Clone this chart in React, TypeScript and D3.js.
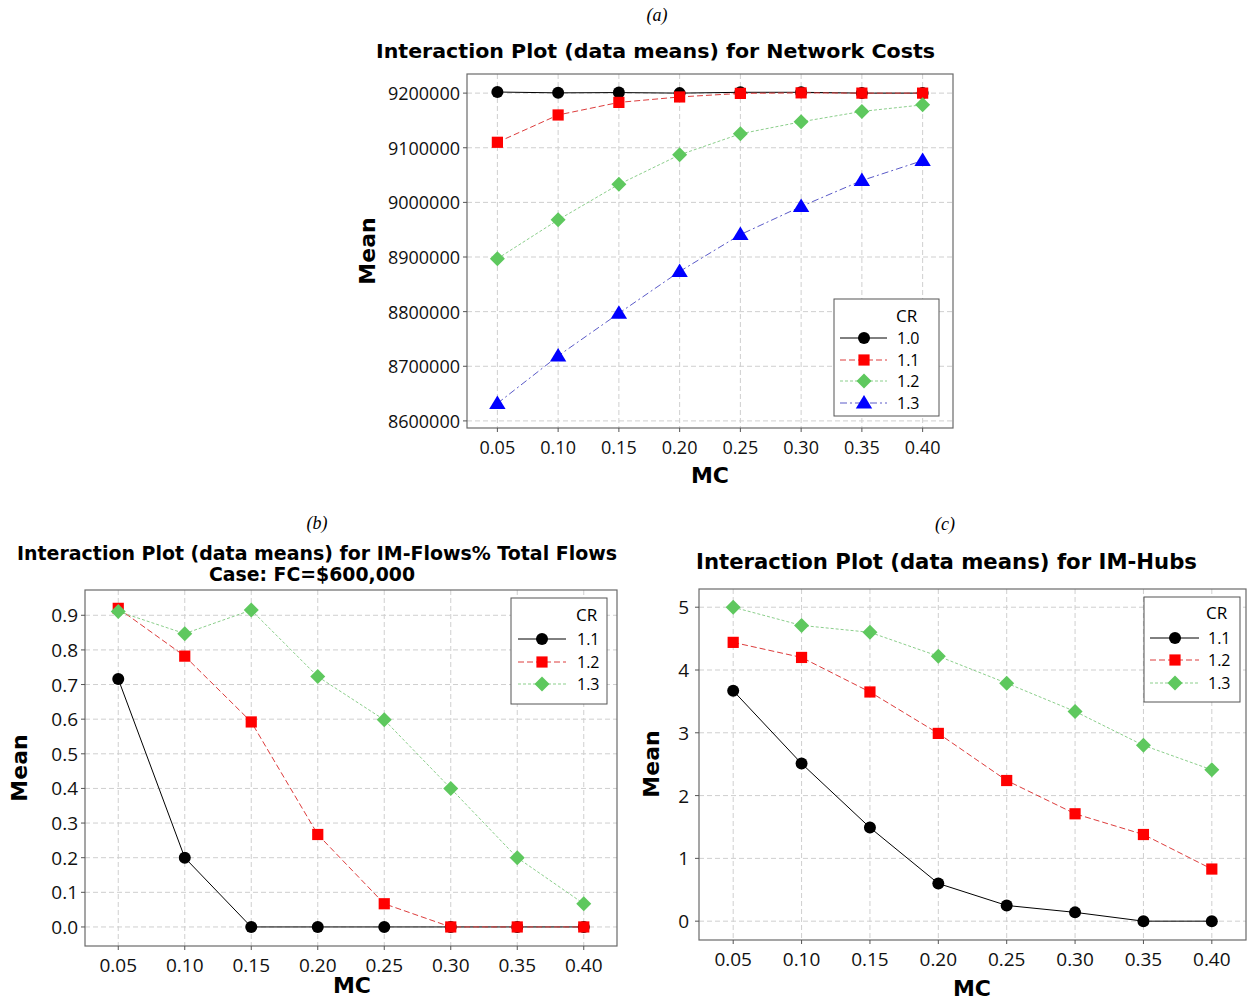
import React from 'react';
import * as d3 from 'd3';

// ---------- data ----------
const mcLabels = ["0.05", "0.10", "0.15", "0.20", "0.25", "0.30", "0.35", "0.40"];

const costCR = ["1.0", "1.1", "1.2", "1.3"];
const cost10 = [9202000, 9200500, 9201000, 9200000, 9201500, 9201500, 9200000, 9200000];
const cost11 = [9110000, 9160000, 9183000, 9193000, 9199500, 9200500, 9200000, 9200000];
const cost12 = [8897000, 8968000, 9033000, 9087000, 9125500, 9147500, 9166500, 9178500];
const cost13 = [8632000, 8719000, 8797000, 8873500, 8941000, 8992500, 9040000, 9076500];
const costTicks = [8600000, 8700000, 8800000, 8900000, 9000000, 9100000, 9200000];

const flowCR = ["1.1", "1.2", "1.3"];
const flow11 = [0.716, 0.2, 0, 0, 0, 0, 0, 0];
const flow12 = [0.92, 0.782, 0.592, 0.267, 0.067, 0, 0, 0];
const flow13 = [0.911, 0.847, 0.915, 0.723, 0.598, 0.4, 0.2, 0.067];
const flowTicks = [0, 0.1, 0.2, 0.3, 0.4, 0.5, 0.6, 0.7, 0.8, 0.9];

const hubCR = ["1.1", "1.2", "1.3"];
const hub11 = [3.67, 2.51, 1.49, 0.6, 0.25, 0.14, 0, 0];
const hub12 = [4.44, 4.2, 3.65, 2.99, 2.24, 1.71, 1.38, 0.83];
const hub13 = [5.0, 4.71, 4.6, 4.22, 3.79, 3.34, 2.8, 2.41];
const hubTicks = [0, 1, 2, 3, 4, 5];

// ---------- styles ----------
const seriesStyles = [
  { marker: 'circle', fill: '#000000', line: '#000000', dash: undefined },
  { marker: 'square', fill: '#ff0000', line: '#dd3c3c', dash: '6,3' },
  { marker: 'diamond', fill: '#5ec85e', line: '#8ccf8c', dash: '3,2' },
  { marker: 'triangle', fill: '#0000ff', line: '#5a5ac8', dash: '7,3,2,3' },
];

const FONT = "'DejaVu Sans', Verdana, sans-serif";
const TICKFONT = "'Open Sans', 'DejaVu Sans', sans-serif";

function markerPath(kind: string, x: number, y: number): string {
  if (kind === 'circle') {
    const r = 6;
    return `M${x - r},${y}a${r},${r} 0 1,0 ${2 * r},0a${r},${r} 0 1,0 ${-2 * r},0Z`;
  }
  if (kind === 'square') {
    const h = 5.6;
    return `M${x - h},${y - h}H${x + h}V${y + h}H${x - h}Z`;
  }
  if (kind === 'diamond') {
    const h = 7.5;
    return `M${x},${y - h}L${x + h},${y}L${x},${y + h}L${x - h},${y}Z`;
  }
  const w = 8.2, up = 8, down = 5.5;
  return `M${x},${y - up}L${x + w},${y + down}L${x - w},${y + down}Z`;
}

type PanelProps = {
  box: { l: number; r: number; t: number; b: number };
  yDomain: [number, number];
  yTicks: number[];
  yFmt: (v: number) => string;
  series: number[][];
  crLabels: string[];
  tickFont: number;
  xTickY: number;
  yTickX: number;
  titles: { text: string; x: number; y: number; len: number; size: number }[];
  meanPos: [number, number];
  mcPos: [number, number];
  legend: { l: number; r: number; t: number; b: number; crX: number; crY: number; rows: number[]; x0: number; x1: number; mx: number; tx: number; font: number };
  section: { text: string; x: number; y: number };
};

function Panel(p: PanelProps) {
  const x = d3.scalePoint<string>().domain(mcLabels).range([p.box.l, p.box.r]).padding(0.5);
  const y = d3.scaleLinear().domain(p.yDomain).range([p.box.b, p.box.t]);
  const line = d3.line<number>().x((_, i) => x(mcLabels[i]) as number).y((v) => y(v));
  const { box, legend } = p;
  const tickLen = 4;
  return (
    <g>
      <text x={p.section.x} y={p.section.y} textAnchor="middle" dominantBaseline="central"
        fontFamily="'Liberation Serif', 'DejaVu Serif', serif" fontStyle="italic" fontSize={18}>{p.section.text}</text>
      {p.titles.map((t, i) => (
        <text key={i} x={t.x} y={t.y} textAnchor="middle" dominantBaseline="central" fontFamily={FONT}
          fontWeight="bold" fontSize={t.size} textLength={t.len} lengthAdjust="spacingAndGlyphs">{t.text}</text>
      ))}
      <rect x={box.l} y={box.t} width={box.r - box.l} height={box.b - box.t} fill="#ffffff" stroke="none" />
      {mcLabels.map((m) => (
        <line key={'gx' + m} x1={x(m)} x2={x(m)} y1={box.t} y2={box.b} stroke="#cfcfcf" strokeDasharray="5,3" strokeWidth={1} />
      ))}
      {p.yTicks.map((v) => (
        <line key={'gy' + v} x1={box.l} x2={box.r} y1={y(v)} y2={y(v)} stroke="#cfcfcf" strokeDasharray="5,3" strokeWidth={1} />
      ))}
      <rect x={box.l} y={box.t} width={box.r - box.l} height={box.b - box.t} fill="none" stroke="#6a6a6a" strokeWidth={1.2} />
      {mcLabels.map((m) => (
        <line key={'kx' + m} x1={x(m)} x2={x(m)} y1={box.b} y2={box.b + tickLen} stroke="#555" strokeWidth={1} />
      ))}
      {p.yTicks.map((v) => (
        <line key={'ky' + v} x1={box.l - tickLen} x2={box.l} y1={y(v)} y2={y(v)} stroke="#555" strokeWidth={1} />
      ))}
      {mcLabels.map((m) => (
        <text key={'tx' + m} x={x(m)} y={p.xTickY} textAnchor="middle" dominantBaseline="central"
          fontFamily={TICKFONT} fontSize={p.tickFont} fill="#111">{m}</text>
      ))}
      {p.yTicks.map((v) => (
        <text key={'ty' + v} x={p.yTickX} y={y(v)} textAnchor="end" dominantBaseline="central"
          fontFamily={TICKFONT} fontSize={p.tickFont} fill="#111">{p.yFmt(v)}</text>
      ))}
      <text transform={`translate(${p.meanPos[0]},${p.meanPos[1]}) rotate(-90)`} textAnchor="middle" dominantBaseline="central"
        fontFamily={FONT} fontWeight="bold" fontSize={22}>Mean</text>
      <text x={p.mcPos[0]} y={p.mcPos[1]} textAnchor="middle" dominantBaseline="central"
        fontFamily={FONT} fontWeight="bold" fontSize={22}>MC</text>
      {p.series.map((vals, si) => {
        const st = seriesStyles[si];
        return (
          <g key={'s' + si}>
            <path d={line(vals) as string} fill="none" stroke={st.line} strokeWidth={1} strokeDasharray={st.dash} />
            {vals.map((v, i) => (
              <path key={i} d={markerPath(st.marker, x(mcLabels[i]) as number, y(v))} fill={st.fill} />
            ))}
          </g>
        );
      })}
      <rect x={legend.l} y={legend.t} width={legend.r - legend.l} height={legend.b - legend.t} fill="#ffffff" stroke="#555" strokeWidth={1} />
      <text x={legend.crX} y={legend.crY} dominantBaseline="central" fontFamily={TICKFONT} fontSize={legend.font + 1}>CR</text>
      {p.crLabels.map((c, i) => {
        const st = seriesStyles[i];
        const ry = legend.rows[i];
        return (
          <g key={'l' + c}>
            <line x1={legend.x0} x2={legend.x1} y1={ry} y2={ry} stroke={st.line} strokeWidth={1} strokeDasharray={st.dash} />
            <path d={markerPath(st.marker, legend.mx, ry)} fill={st.fill} />
            <text x={legend.tx} y={ry} dominantBaseline="central" fontFamily={TICKFONT} fontSize={legend.font}>{c}</text>
          </g>
        );
      })}
    </g>
  );
}

export default function App() {
  const fmtInt = d3.format('d');
  const fmt1 = d3.format('.1f');
  return (
    <svg width={1247} height={1002} style={{ position: 'absolute', left: 0, top: 0, background: '#ffffff' }}>
      <rect x={0} y={0} width={1247} height={1002} fill="#ffffff" />
      <Panel
        box={{ l: 467, r: 953, t: 74, b: 428 }}
        yDomain={[8587000, 9235000]}
        yTicks={costTicks}
        yFmt={fmtInt}
        series={[cost10, cost11, cost12, cost13]}
        crLabels={costCR}
        tickFont={18}
        xTickY={447}
        yTickX={460}
        titles={[{ text: 'Interaction Plot (data means) for Network Costs', x: 655.5, y: 51, len: 559, size: 20 }]}
        meanPos={[367, 251]}
        mcPos={[710, 475]}
        legend={{ l: 834, r: 939, t: 299, b: 416, crX: 896, crY: 315, rows: [338, 360, 381, 403], x0: 840, x1: 887, mx: 864, tx: 897, font: 16 }}
        section={{ text: '(a)', x: 657, y: 15 }}
      />
      <Panel
        box={{ l: 85, r: 617, t: 590, b: 946 }}
        yDomain={[-0.055, 0.973]}
        yTicks={flowTicks}
        yFmt={fmt1}
        series={[flow11, flow12, flow13]}
        crLabels={flowCR}
        tickFont={19}
        xTickY={965}
        yTickX={78}
        titles={[
          { text: 'Interaction Plot (data means) for IM-Flows% Total Flows', x: 317, y: 553, len: 600, size: 19 },
          { text: 'Case: FC=$600,000', x: 312, y: 574, len: 206, size: 19 },
        ]}
        meanPos={[19, 768]}
        mcPos={[352, 985]}
        legend={{ l: 511, r: 607, t: 598, b: 704, crX: 576, crY: 614, rows: [639, 662, 684], x0: 518, x1: 566, mx: 542, tx: 577, font: 16 }}
        section={{ text: '(b)', x: 317, y: 523 }}
      />
      <Panel
        box={{ l: 699, r: 1246, t: 589, b: 940 }}
        yDomain={[-0.3, 5.29]}
        yTicks={hubTicks}
        yFmt={fmtInt}
        series={[hub11, hub12, hub13]}
        crLabels={hubCR}
        tickFont={19}
        xTickY={959}
        yTickX={689}
        titles={[{ text: 'Interaction Plot (data means) for IM-Hubs', x: 946.5, y: 562, len: 501, size: 21 }]}
        meanPos={[651, 764]}
        mcPos={[972, 988]}
        legend={{ l: 1144, r: 1240, t: 597, b: 702, crX: 1206, crY: 612, rows: [638, 660, 683], x0: 1150, x1: 1199, mx: 1175, tx: 1208, font: 16 }}
        section={{ text: '(c)', x: 945, y: 524 }}
      />
    </svg>
  );
}
